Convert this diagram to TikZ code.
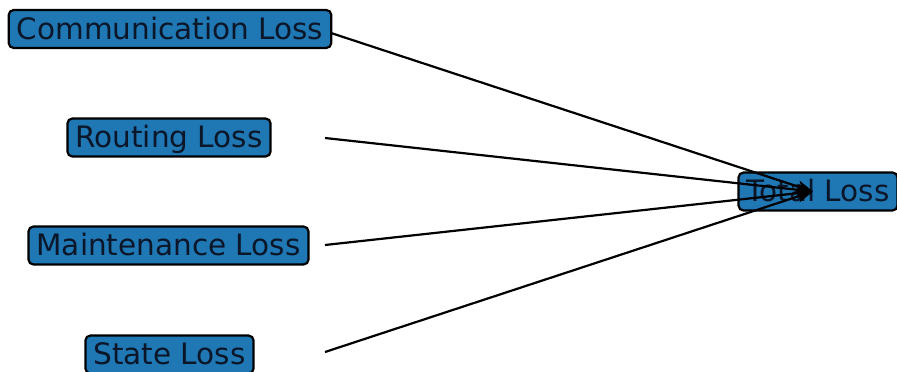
\documentclass[tikz,border=0pt]{standalone}
\usepackage{fontspec}
\setmainfont{DejaVu Sans}
\usetikzlibrary{arrows.meta}
\definecolor{boxblue}{HTML}{1F77B4}
\definecolor{txt}{HTML}{0B1628}
\tikzset{
  lossbox/.style={draw=black, line width=2.2pt, fill=boxblue, rounded corners=5pt,
    font=\fontsize{29.5}{31}\selectfont, text=txt, inner xsep=8pt, minimum height=38pt,
    text height=21pt, text depth=1pt, inner ysep=0pt},
  edge/.style={draw=black, line width=2.2pt, -{Stealth[length=16pt,width=12pt,inset=4pt]}}
}
\begin{document}
\begin{tikzpicture}[x=1pt,y=-1pt]
\useasboundingbox (0,0) rectangle (897,372);
\node[lossbox] (comm) at (170,29) {Communication Loss};
\node[lossbox] (rout) at (169,137.5) {Routing Loss};
\node[lossbox] (maint) at (168.5,245.5) {Maintenance Loss};
\node[lossbox] (state) at (169.5,354.5) {State Loss};
\node[lossbox] (total) at (818,191.5) {Total Loss};
\coordinate (cs) at (331,33);
\coordinate (rs) at (325,138);
\coordinate (ms) at (325,245);
\coordinate (ss) at (325,352);
\coordinate (tin) at (813,191.5);
\draw[edge] (cs) -- (tin);
\draw[edge] (rs) -- (tin);
\draw[edge] (ms) -- (tin);
\draw[edge] (ss) -- (tin);
\end{tikzpicture}
\end{document}
